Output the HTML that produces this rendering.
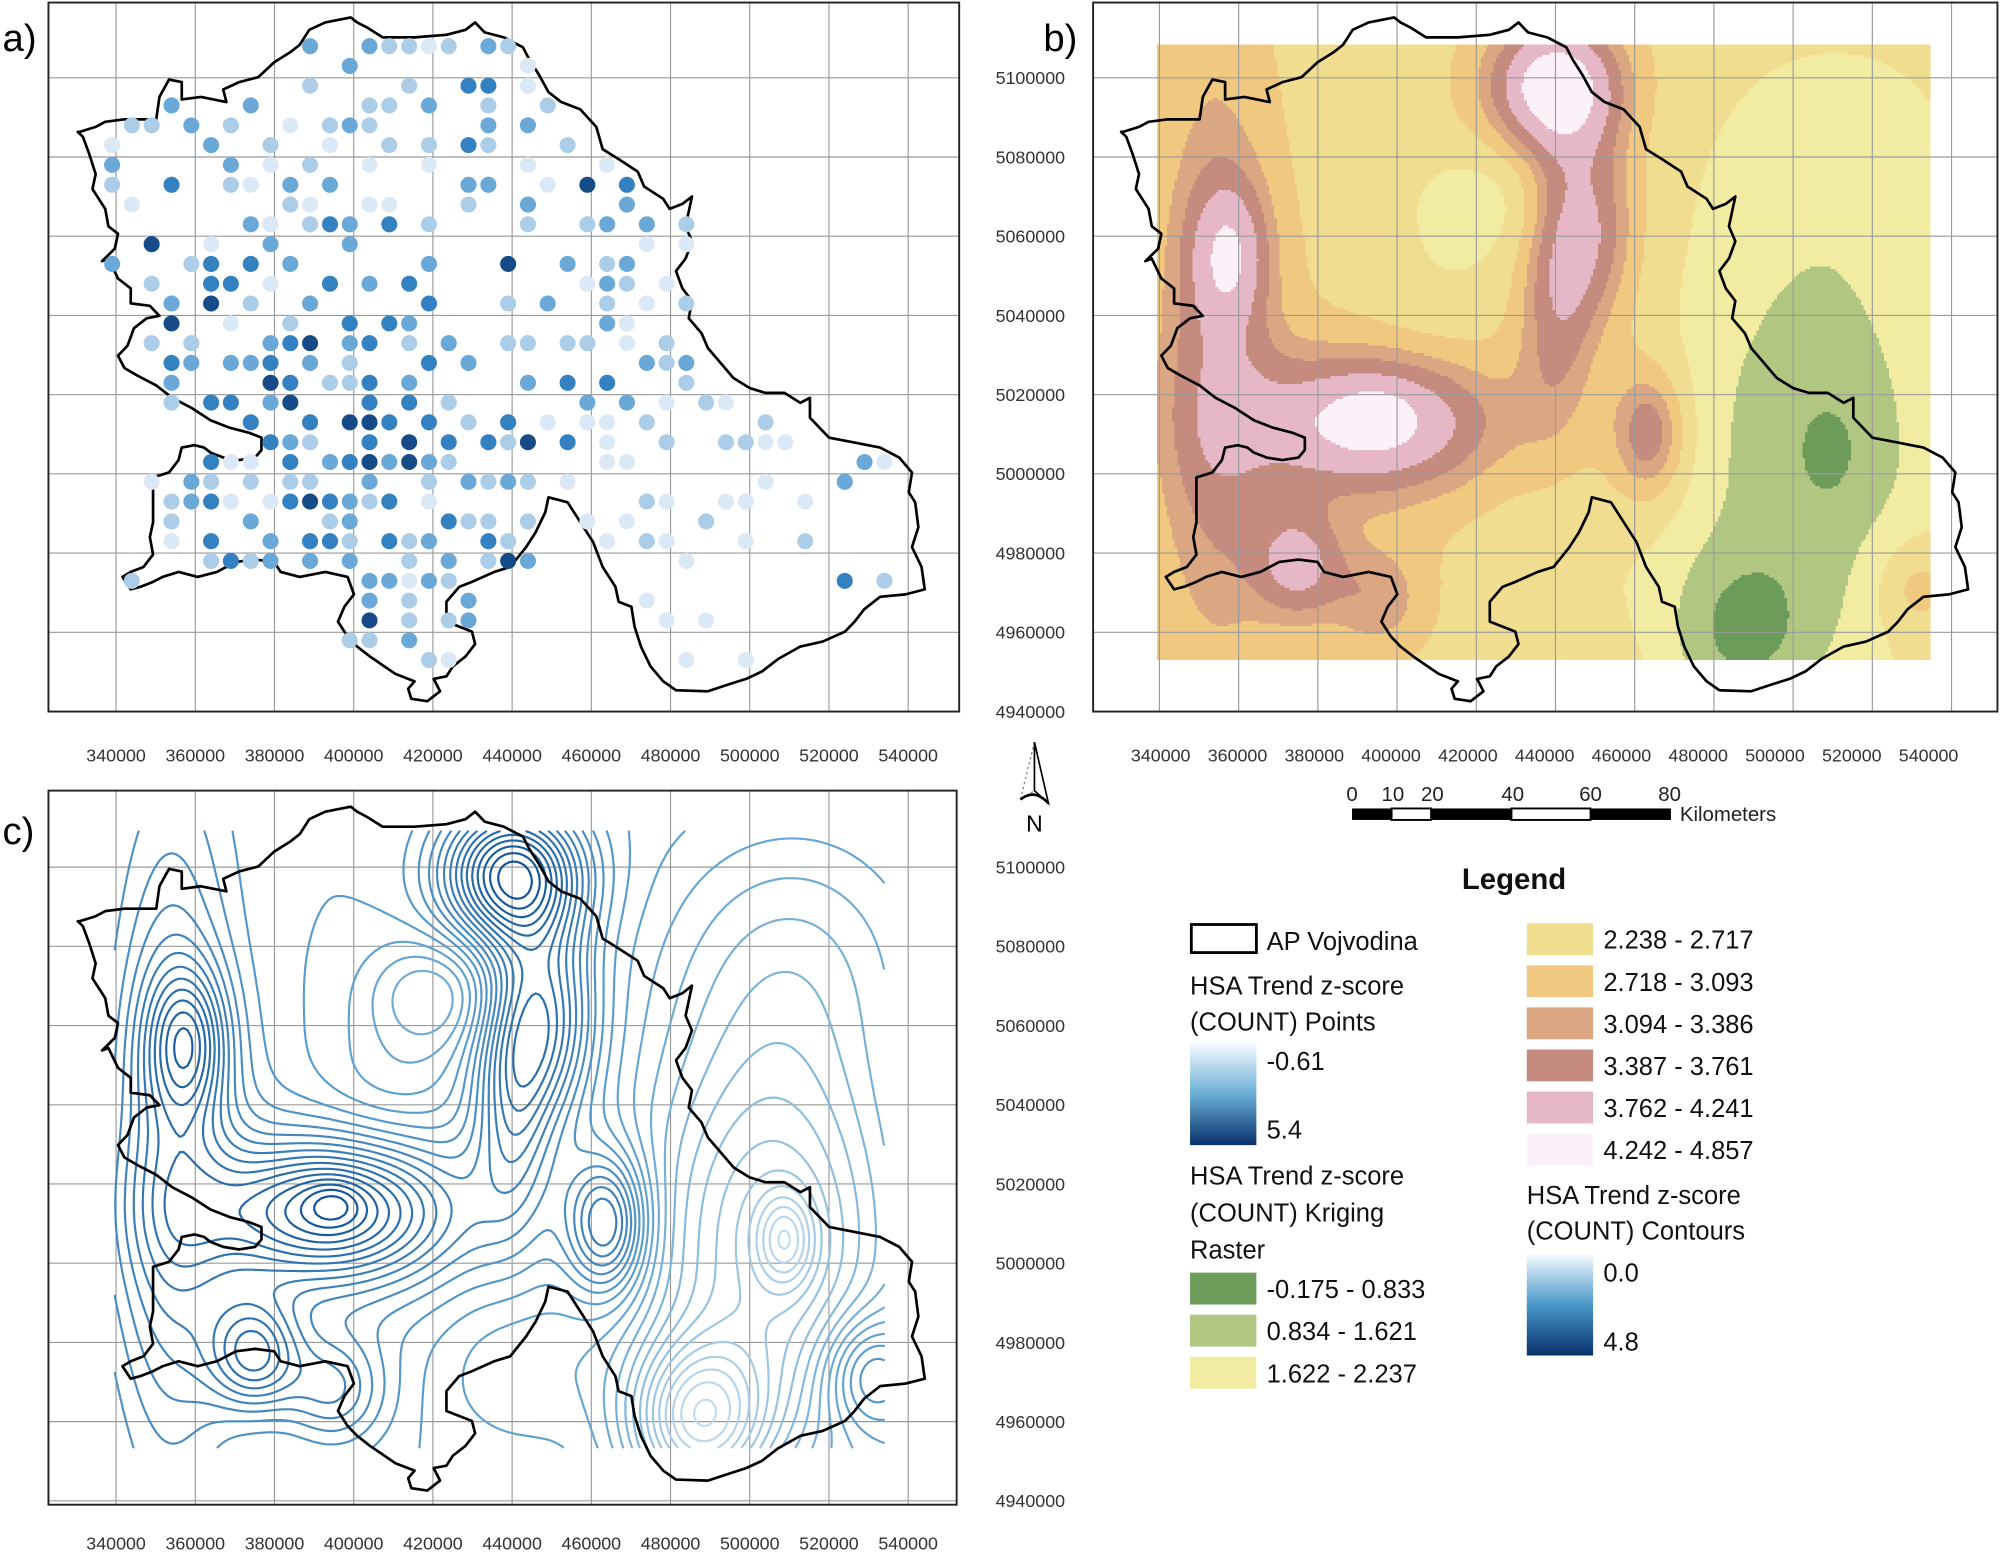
<!DOCTYPE html>
<html><head><meta charset="utf-8"><style>
html,body{margin:0;padding:0;background:#fff;}
svg{display:block;font-family:"Liberation Sans",sans-serif;}
</style></head><body>
<svg id="fig" xmlns="http://www.w3.org/2000/svg" width="2000" height="1557" viewBox="0 0 1568 1221" preserveAspectRatio="none">
<defs>
<linearGradient id="gPts" x1="0" y1="0" x2="0" y2="1"><stop offset="0" stop-color="#f7fbff"/><stop offset="0.5" stop-color="#6baed6"/><stop offset="1" stop-color="#08306b"/></linearGradient>
<linearGradient id="gCon" x1="0" y1="0" x2="0" y2="1"><stop offset="0" stop-color="#f7fbff"/><stop offset="0.5" stop-color="#4a98c9"/><stop offset="1" stop-color="#08306b"/></linearGradient>
<clipPath id="clipA"><rect x="38" y="2" width="714" height="556"/></clipPath>
<clipPath id="clipB"><rect x="857" y="2" width="709" height="556"/></clipPath>
<clipPath id="clipC"><rect x="38" y="620" width="712" height="560"/></clipPath>
</defs>
<rect width="1568" height="1221" fill="#fff"/>
<g id="panelA"></g>
<g id="panelB"></g>
<g id="panelC"></g>
<text x="2" y="40" font-size="30">a)</text>
<text x="818" y="40" font-size="30">b)</text>
<text x="2" y="662" font-size="30">c)</text>

<g>
<polygon points="811,582 800,627 811,620" fill="none" stroke="#888" stroke-width="1" stroke-dasharray="2,2"/>
<polygon points="811,582 822,630 811,620" fill="none" stroke="#000" stroke-width="1.3"/>
<path d="M800,627 Q811,618 822,630" fill="none" stroke="#000" stroke-width="2"/>
<text x="811" y="652" font-size="18" text-anchor="middle">N</text>
</g>
<g>
<rect x="1060" y="634" width="31" height="9" fill="#000"/>
<rect x="1091" y="634" width="31" height="9" fill="#fff" stroke="#000" stroke-width="1.5"/>
<rect x="1122" y="634" width="63" height="9" fill="#000"/>
<rect x="1185" y="634" width="62" height="9" fill="#fff" stroke="#000" stroke-width="1.5"/>
<rect x="1247" y="634" width="63" height="9" fill="#000"/>
<g font-size="16" text-anchor="middle" fill="#222">
<text x="1060" y="628">0</text><text x="1092" y="628">10</text><text x="1123" y="628">20</text><text x="1186" y="628">40</text><text x="1247" y="628">60</text><text x="1309" y="628">80</text>
</g>
<text x="1317" y="644" font-size="16" fill="#222">Kilometers</text>
</g>

<g font-size="20" fill="#111">
<text x="1187" y="697" font-size="23" font-weight="bold" text-anchor="middle">Legend</text>
<rect x="934" y="725" width="51" height="22" fill="#fff" stroke="#000" stroke-width="2.2"/>
<text x="993" y="745">AP Vojvodina</text>
<text x="933" y="780">HSA Trend z-score</text>
<text x="933" y="808">(COUNT) Points</text>
<rect x="933" y="818" width="52" height="80" fill="url(#gPts)"/>
<text x="993" y="839">-0.61</text><text x="993" y="893">5.4</text>
<text x="933" y="929">HSA Trend z-score</text>
<text x="933" y="958">(COUNT) Kriging</text>
<text x="933" y="987">Raster</text>
<g id="legendBands"></g>
<text x="1197" y="944">HSA Trend z-score</text>
<text x="1197" y="972">(COUNT) Contours</text>
<rect x="1197" y="983" width="52" height="80" fill="url(#gCon)"/>
<text x="1257" y="1005">0.0</text><text x="1257" y="1059">4.8</text>
</g>
</svg>
<script>
// ---------- DATA ----------
// Station points: [easting km, northing km, z-score]
const stations = [
[389,5108,2.5],[404,5108,2.5],[409,5108,1.3],[414,5108,1.3],[419,5108,0.2],[424,5108,1.3],[434,5108,2.5],[439,5108,1.3],
[399,5103,2.5],[444,5103,0.2],
[389,5098,1.3],[414,5098,1.3],[429,5098,3.6],[434,5098,3.6],[444,5098,0.2],
[354,5093,2.5],[374,5093,2.5],[404,5093,1.3],[409,5093,1.3],[419,5093,2.5],[434,5093,1.3],[449,5093,1.3],
[344,5088,1.3],[349,5088,1.3],[359,5088,2.5],[369,5088,1.3],[384,5088,0.2],[394,5088,1.3],[399,5088,2.5],[404,5088,1.3],[434,5088,2.5],[444,5088,2.5],
[339,5083,0.2],[364,5083,2.5],[379,5083,1.3],[394,5083,0.2],[409,5083,1.3],[419,5083,1.3],[429,5083,3.6],[434,5083,1.3],[454,5083,1.3],
[339,5078,2.5],[369,5078,2.5],[379,5078,0.2],[389,5078,1.3],[404,5078,0.2],[419,5078,0.2],[444,5078,0.2],[464,5078,0.2],
[339,5073,1.3],[354,5073,3.6],[369,5073,1.3],[374,5073,0.2],[384,5073,2.5],[394,5073,2.5],[429,5073,2.5],[434,5073,2.5],[449,5073,0.2],[459,5073,4.8],[469,5073,3.6],
[344,5068,0.2],[384,5068,1.3],[389,5068,0.2],[404,5068,0.2],[409,5068,0.2],[429,5068,1.3],[444,5068,2.5],[469,5068,2.5],
[374,5063,2.5],[379,5063,0.2],[389,5063,1.3],[394,5063,3.6],[399,5063,2.5],[409,5063,3.6],[419,5063,1.3],[444,5063,1.3],[459,5063,1.3],[464,5063,2.5],[474,5063,2.5],[484,5063,1.3],
[349,5058,4.8],[364,5058,0.2],[379,5058,2.5],[399,5058,2.5],[474,5058,0.2],[484,5058,0.2],
[339,5053,2.5],[359,5053,1.3],[364,5053,3.6],[374,5053,3.6],[384,5053,2.5],[419,5053,2.5],[439,5053,4.8],[454,5053,2.5],[464,5053,1.3],[469,5053,2.5],
[349,5048,1.3],[364,5048,3.6],[369,5048,3.6],[379,5048,0.2],[394,5048,3.6],[404,5048,2.5],[414,5048,3.6],[459,5048,0.2],[464,5048,2.5],[469,5048,1.3],[479,5048,0.2],
[354,5043,2.5],[364,5043,4.8],[374,5043,1.3],[389,5043,2.5],[419,5043,3.6],[439,5043,1.3],[449,5043,2.5],[464,5043,1.3],[474,5043,0.2],[484,5043,1.3],
[354,5038,4.8],[369,5038,0.2],[384,5038,1.3],[399,5038,3.6],[409,5038,3.6],[414,5038,2.5],[464,5038,2.5],[469,5038,0.2],
[349,5033,1.3],[359,5033,1.3],[379,5033,2.5],[384,5033,3.6],[389,5033,4.8],[399,5033,2.5],[404,5033,3.6],[414,5033,1.3],[424,5033,2.5],[439,5033,1.3],[444,5033,1.3],[454,5033,1.3],[459,5033,1.3],[469,5033,0.2],[479,5033,1.3],
[354,5028,3.6],[359,5028,2.5],[369,5028,2.5],[374,5028,2.5],[379,5028,3.6],[389,5028,2.5],[399,5028,1.3],[419,5028,3.6],[429,5028,2.5],[474,5028,2.5],[479,5028,1.3],[484,5028,2.5],
[354,5023,2.5],[379,5023,4.8],[384,5023,3.6],[394,5023,1.3],[399,5023,1.3],[404,5023,3.6],[414,5023,2.5],[444,5023,2.5],[454,5023,3.6],[464,5023,3.6],[484,5023,1.3],
[354,5018,1.3],[364,5018,3.6],[369,5018,3.6],[379,5018,2.5],[384,5018,4.8],[404,5018,3.6],[414,5018,3.6],[424,5018,1.3],[459,5018,2.5],[469,5018,2.5],[479,5018,0.2],[489,5018,1.3],[494,5018,0.2],
[374,5013,3.6],[389,5013,3.6],[399,5013,4.8],[404,5013,4.8],[409,5013,3.6],[419,5013,3.6],[429,5013,1.3],[439,5013,3.6],[449,5013,0.2],[459,5013,0.2],[464,5013,0.2],[474,5013,1.3],[504,5013,1.3],
[379,5008,3.6],[384,5008,2.5],[389,5008,1.3],[404,5008,3.6],[414,5008,4.8],[424,5008,3.6],[434,5008,3.6],[439,5008,1.3],[444,5008,4.8],[454,5008,3.6],[464,5008,0.2],[479,5008,1.3],[494,5008,1.3],[499,5008,1.3],[504,5008,0.2],[509,5008,0.2],
[364,5003,3.6],[369,5003,0.2],[374,5003,0.2],[384,5003,3.6],[394,5003,2.5],[399,5003,3.6],[404,5003,4.8],[409,5003,2.5],[414,5003,4.8],[419,5003,2.5],[424,5003,1.3],[464,5003,0.2],[469,5003,0.2],[529,5003,2.5],[534,5003,0.2],
[349,4998,0.2],[359,4998,2.5],[364,4998,1.3],[374,4998,1.3],[384,4998,1.3],[389,4998,1.3],[404,4998,2.5],[419,4998,1.3],[429,4998,2.5],[434,4998,1.3],[439,4998,2.5],[444,4998,1.3],[454,4998,0.2],[504,4998,0.2],[524,4998,2.5],
[354,4993,1.3],[359,4993,2.5],[364,4993,3.6],[369,4993,0.2],[379,4993,0.2],[384,4993,3.6],[389,4993,4.8],[394,4993,3.6],[399,4993,2.5],[404,4993,1.3],[409,4993,3.6],[419,4993,0.2],[474,4993,1.3],[479,4993,0.2],[494,4993,0.2],[499,4993,0.2],[514,4993,0.2],
[354,4988,1.3],[374,4988,2.5],[394,4988,1.3],[399,4988,2.5],[424,4988,3.6],[429,4988,1.3],[434,4988,1.3],[444,4988,1.3],[459,4988,0.2],[469,4988,0.2],[489,4988,1.3],
[354,4983,0.2],[364,4983,3.6],[379,4983,2.5],[389,4983,3.6],[394,4983,3.6],[399,4983,1.3],[409,4983,3.6],[414,4983,1.3],[419,4983,2.5],[434,4983,3.6],[439,4983,1.3],[464,4983,0.2],[474,4983,1.3],[479,4983,0.2],[499,4983,0.2],[514,4983,1.3],
[364,4978,1.3],[369,4978,3.6],[374,4978,1.3],[379,4978,2.5],[389,4978,2.5],[399,4978,2.5],[414,4978,1.3],[424,4978,2.5],[434,4978,1.3],[439,4978,4.8],[444,4978,2.5],[484,4978,0.2],
[344,4973,1.3],[404,4973,2.5],[409,4973,2.5],[414,4973,0.2],[419,4973,2.5],[424,4973,1.3],[524,4973,3.6],[534,4973,1.3],
[404,4968,2.5],[414,4968,1.3],[429,4968,2.5],[474,4968,0.2],
[404,4963,4.8],[414,4963,1.3],[424,4963,1.3],[429,4963,2.5],[479,4963,0.2],[489,4963,0.2],
[399,4958,1.3],[404,4958,1.3],[414,4958,2.5],
[419,4953,1.3],[424,4953,0.2],[484,4953,0.2],[499,4953,0.2]
];
// Kriged surface model (trend + anomalies, easting/northing in km)
const fieldBase = 2.55;
const bumpE   = [393, 395, 390, 358, 354, 440, 448, 464, 375, 505, 487, 509, 420, 410, 512, 440, 440, 530, 395];
const bumpN   = [5013,5015,5010,5056,5030,5098,5062,5010,4977,5005,4960,5006,5068,5045,5080,5040,4975,4972,4968];
const bumpAmp = [1.65, 0.3, 0.3, 1.0, 0.95, 2.1, 1.2, 1.3, 1.2, -1.4,-1.55,-0.75,-0.6,-0.3,-0.45, 0.8, -0.3, 0.8, 0.7];
const bumpSE  = [21, 5, 40, 7, 11, 12, 9, 7, 8, 24, 12, 5, 12, 14, 25, 7, 15, 8, 9];
const bumpSN  = [12, 4, 25, 13, 60, 12, 18, 12, 10, 40, 14, 8, 10, 12, 25, 22, 15, 10, 10];
const bandBreaks = [-0.175, 0.833, 1.621, 2.237, 2.717, 3.093, 3.386, 3.761, 4.241, 4.857];
const bandLabels = ['-0.175 - 0.833','0.834 - 1.621','1.622 - 2.237','2.238 - 2.717','2.718 - 3.093','3.094 - 3.386','3.387 - 3.761','3.762 - 4.241','4.242 - 4.857'];
const bandColors = ['#6d9b5a','#b1c681','#f2eca2','#f1dd8f','#f0c880','#dba682','#c48b7e','#e6b8c7','#fcf0f9'];
const xTicks = [340000,360000,380000,400000,420000,440000,460000,480000,500000,520000,540000];
const yTicks = [5100000,5080000,5060000,5040000,5020000,5000000,4980000,4960000,4940000];
const contourLevels = [0.15,0.3,0.45,0.6,0.75,0.9,1.05,1.2,1.35,1.5,1.65,1.8,1.95,2.1,2.25,2.4,2.55,2.7,2.85,3.0,3.15,3.3,3.45,3.6,3.75,3.9,4.05,4.2,4.35,4.5,4.65];

// ---------- HELPERS ----------
const NS='http://www.w3.org/2000/svg';
function mk(tag,parent){const e=document.createElementNS(NS,tag);parent.appendChild(e);return e;}
function xA(Ekm){return 91+(Ekm-340)*3.105;}
function yA(Nkm){return 61+(5100-Nkm)*3.106;}
const OFF={A:[0,0],B:[818,0],C:[0,619]};
function field(E,N){let v=fieldBase;for(let i=0;i<bumpE.length;i++){const a=(E-bumpE[i])/bumpSE[i],b=(N-bumpN[i])/bumpSN[i];v+=bumpAmp[i]*Math.exp(-0.5*(a*a+b*b));}return v;}
function lerpC(c1,c2,t){const p=s=>[1,3,5].map(i=>parseInt(s.substr(i,2),16));const a=p(c1),b=p(c2);return 'rgb('+a.map((v,i)=>Math.round(v+(b[i]-v)*t)).join(',')+')';}
function ptColor(z){const st=[[-0.61,'#f7fbff'],[0.8,'#c6dbef'],[2.2,'#7ab3dc'],[3.5,'#3585c5'],[5.4,'#08306b']];z=Math.max(-0.61,Math.min(5.4,z));for(let i=0;i<st.length-1;i++){if(z<=st[i+1][0]){return lerpC(st[i][1],st[i+1][1],(z-st[i][0])/(st[i+1][0]-st[i][0]));}}return st[4][1];}
function conColor(v){const t=v/4.8;return t<0.5?lerpC('#dbe9f6','#5fa2d0',t/0.5):lerpC('#5fa2d0','#0a4f96',(t-0.5)/0.5);}

// boundary (traced, in panel-a pixel space)
const bz=[[125,265],[150,255],[165,245],[195,240],[245,240],[250,195],[265,160],[285,165],[285,200],[315,195],[355,205],[350,180],[375,165],[405,155],[430,125],[455,105],[470,90],[485,60],[510,45],[550,35],[560,45],[575,55],[600,75],[650,75],[700,70],[730,60],[745,45],[760,65],[790,75],[820,95],[830,120],[845,150],[860,185],[880,205],[910,220],[935,255],[945,300],[970,320],[1000,345],[1010,375],[1040,400],[1050,420],[1070,410],[1085,395],[1075,455],[1085,485],[1075,520],[1060,545],[1070,580],[1085,605],[1080,640],[1100,670],[1110,700],[1130,730],[1150,760],[1175,780],[1200,790],[1230,790],[1255,810],[1270,800],[1270,840],[1300,880],[1340,890],[1380,900],[1410,920],[1430,950],[1425,990],[1435,1010],[1440,1060],[1430,1100],[1445,1140],[1450,1185],[1420,1195],[1380,1200],[1355,1225],[1340,1250],[1325,1270],[1290,1290],[1255,1300],[1220,1325],[1195,1350],[1170,1365],[1145,1375],[1110,1390],[1060,1388],[1040,1370],[1020,1340],[1005,1300],[995,1260],[990,1220],[970,1210],[965,1180],[945,1140],[930,1090],[910,1050],[890,1010],[860,1000],[855,1030],[840,1070],[825,1100],[800,1140],[775,1150],[740,1170],[720,1180],[700,1210],[700,1250],[740,1270],[745,1295],[730,1320],[710,1340],[700,1360],[680,1365],[690,1390],[670,1410],[645,1405],[640,1385],[650,1370],[620,1355],[580,1320],[560,1300],[545,1280],[530,1250],[540,1220],[555,1195],[545,1160],[510,1150],[470,1160],[440,1150],[430,1130],[400,1125],[370,1130],[340,1150],[310,1160],[280,1150],[255,1160],[240,1170],[220,1180],[205,1185],[192,1160],[205,1150],[225,1140],[240,1115],[235,1080],[240,1050],[240,1000],[240,960],[265,950],[280,925],[285,900],[305,895],[320,900],[330,910],[350,920],[375,925],[400,920],[410,905],[410,880],[390,870],[360,860],[330,845],[300,820],[270,800],[245,775],[215,755],[195,740],[185,715],[200,695],[210,660],[230,640],[250,635],[235,615],[205,610],[205,580],[185,560],[170,520],[160,525],[180,500],[185,470],[170,455],[165,420],[155,400],[145,380],[150,350],[140,310],[130,275],[122,265]];
function boundaryPath(off){return 'M'+bz.map(p=>(p[0]*0.5+off[0]).toFixed(1)+','+(p[1]*0.39+off[1]).toFixed(1)).join('L')+'Z';}

function drawGrid(g,off,clip){
  const gg=mk('g',g);gg.setAttribute('clip-path','url(#'+clip+')');
  
  
  xTicks.forEach(t=>{const l=mk('line',gg);const x=xA(t/1000)+off[0];l.setAttribute('x1',x);l.setAttribute('x2',x);l.setAttribute('y1',0);l.setAttribute('y2',1221);l.setAttribute('stroke','#9a9a9a');l.setAttribute('stroke-width','0.9');});
  yTicks.forEach(t=>{const l=mk('line',gg);const y=yA(t/1000)+off[1];l.setAttribute('y1',y);l.setAttribute('y2',y);l.setAttribute('x1',0);l.setAttribute('x2',1568);l.setAttribute('stroke','#9a9a9a');l.setAttribute('stroke-width','0.9');});
}
function drawFrame(g,x,y,w,h){const r=mk('rect',g);r.setAttribute('x',x);r.setAttribute('y',y);r.setAttribute('width',w);r.setAttribute('height',h);r.setAttribute('fill','none');r.setAttribute('stroke','#222');r.setAttribute('stroke-width','1.5');

}
function drawBoundary(g,off){const p=mk('path',g);p.setAttribute('d',boundaryPath(off));p.setAttribute('fill','none');p.setAttribute('stroke','#000');p.setAttribute('stroke-width','2.1');p.setAttribute('stroke-linejoin','round');

}
function xLabels(g,y,spacing,start){const gg=mk('g',g);


xTicks.forEach((t,i)=>{const tx=mk('text',gg);tx.setAttribute('x',start+i*spacing);tx.setAttribute('y',y);tx.setAttribute('font-size','14');tx.setAttribute('text-anchor','middle');tx.setAttribute('fill','#333');tx.textContent=t;});}
function yLabels(g,off){const gg=mk('g',g);


yTicks.forEach(t=>{const tx=mk('text',gg);tx.setAttribute('x',835);tx.setAttribute('y',yA(t/1000)+off[1]+5);tx.setAttribute('font-size','14');tx.setAttribute('text-anchor','end');tx.setAttribute('fill','#333');tx.textContent=t;});}

// ---------- PANEL A ----------
const gA=document.getElementById('panelA');
drawGrid(gA,OFF.A,'clipA');
drawBoundary(gA,OFF.A);
stations.forEach(s=>{const c=mk('circle',gA);c.setAttribute('cx',xA(s[0]).toFixed(1));c.setAttribute('cy',yA(s[1]).toFixed(1));c.setAttribute('r','6.3');c.setAttribute('fill',ptColor(s[2]));

});
drawFrame(gA,38,2,714,556);
xLabels(gA,597,62.1,91);

// ---------- PANEL B ----------
const gB=document.getElementById('panelB');
const rast=mk('g',gB);


rast.setAttribute('shape-rendering','crispEdges');
function band(v){let b=0;for(let i=1;i<bandBreaks.length-1;i++){if(v>bandBreaks[i])b=i;}return b;}
const step=2,rx0=907,rx1=1513,ry0=35,ry1=517;
for(let y=ry0;y<ry1;y+=step){let runStart=rx0,cur=-1;
  for(let x=rx0;x<=rx1;x+=step){let b=-2;if(x<rx1){const E=340+(x+1-818-91)/3.105,N=5100-(y+1-61)/3.106;b=band(field(E,N));}
    if(b!==cur){if(cur>=0){const r=mk('rect',rast);r.setAttribute('x',runStart);r.setAttribute('y',y);r.setAttribute('width',x-runStart+0.4);r.setAttribute('height',step+0.4);r.setAttribute('fill',bandColors[cur]);}cur=b;runStart=x;}}
}
drawGrid(gB,OFF.B,'clipB');
drawBoundary(gB,OFF.B);
drawFrame(gB,857,2,709,556);
xLabels(gB,597,60.2,910);
yLabels(gB,OFF.B);

// ---------- PANEL C ----------
const gC=document.getElementById('panelC');
drawGrid(gC,OFF.C,'clipC');
const cg=mk('g',gC);


const cx0=90,cx1=694,cy0=652,cy1=1136,cs=3;
const nx=Math.floor((cx1-cx0)/cs)+1,ny=Math.floor((cy1-cy0)/cs)+1;
const F=[];for(let j=0;j<ny;j++){const row=[];for(let i=0;i<nx;i++){const x=cx0+i*cs,y=cy0+j*cs;row.push(field(340+(x-91)/3.105,5100-(y-680)/3.106));}F.push(row);}
contourLevels.forEach(L=>{let d='';
  for(let j=0;j<ny-1;j++)for(let i=0;i<nx-1;i++){
    const v=[F[j][i],F[j][i+1],F[j+1][i+1],F[j+1][i]];
    const pts=[[cx0+i*cs,cy0+j*cs],[cx0+(i+1)*cs,cy0+j*cs],[cx0+(i+1)*cs,cy0+(j+1)*cs],[cx0+i*cs,cy0+(j+1)*cs]];
    const cr=[];
    for(let e=0;e<4;e++){const a=v[e],b=v[(e+1)%4];if((a<L)!==(b<L)){const t=(L-a)/(b-a);const p=pts[e],q=pts[(e+1)%4];cr.push([p[0]+(q[0]-p[0])*t,p[1]+(q[1]-p[1])*t]);}}
    for(let k=0;k+1<cr.length;k+=2){d+='M'+cr[k][0].toFixed(1)+','+cr[k][1].toFixed(1)+'L'+cr[k+1][0].toFixed(1)+','+cr[k+1][1].toFixed(1);}
  }
  if(d){const p=mk('path',cg);p.setAttribute('d',d);p.setAttribute('fill','none');p.setAttribute('stroke',conColor(L));p.setAttribute('stroke-width','1.7');p.setAttribute('stroke-linecap','round');
  
  }
});
drawBoundary(gC,OFF.C);
drawFrame(gC,38,620,712,560);
xLabels(gC,1215,62.1,91);
yLabels(gC,OFF.C);

// ---------- LEGEND BANDS ----------
const lb=document.getElementById('legendBands');
bandLabels.forEach((lab,i)=>{const left=i<3;const x=left?933:1197;const y=left?998+i*33:724+(i-3)*33;
  const r=mk('rect',lb);r.setAttribute('x',x);r.setAttribute('y',y);r.setAttribute('width',52);r.setAttribute('height',25);r.setAttribute('fill',bandColors[i]);
  
  
  const t=mk('text',lb);t.setAttribute('x',x+60);t.setAttribute('y',y+20);t.textContent=lab;
  
  });
</script>
</body></html>
